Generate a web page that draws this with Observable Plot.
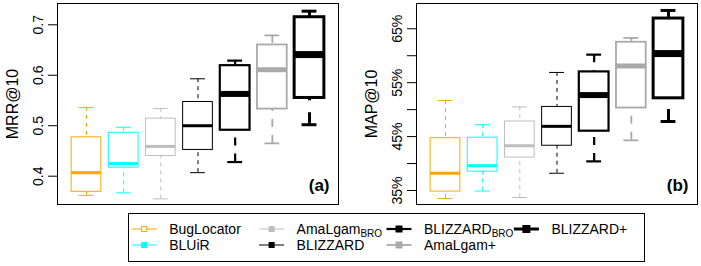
<!DOCTYPE html>
<html><head><meta charset="utf-8">
<script src="https://cdn.jsdelivr.net/npm/d3@7"></script>
<script src="https://cdn.jsdelivr.net/npm/@observablehq/plot@0.6"></script>
<style>
body{margin:0;background:#fff;}
#wrap{position:relative;width:701px;height:266px;font-family:"Liberation Sans",Arial,sans-serif;}
#wrap svg{position:absolute;overflow:visible;}
</style></head><body><div id="wrap"></div>
<script>
// categories
const tools = ["BugLocator","BLUiR","AmaLgam_BRO","BLIZZARD","BLIZZARD_BRO","AmaLgam+","BLIZZARD+"];
const legendBase = ["BugLocator","BLUiR","AmaLgam","BLIZZARD","BLIZZARD","AmaLgam+","BLIZZARD+"];
const legendSub = ["","","BRO","","BRO","",""];
// MRR@10 five-number summaries
const mrrLo  = [0.362, 0.367, 0.355, 0.407, 0.428, 0.465, 0.502];
const mrrQ1  = [0.369, 0.417, 0.440, 0.452, 0.491, 0.533, 0.555];
const mrrMed = [0.407, 0.425, 0.459, 0.500, 0.563, 0.611, 0.641];
const mrrQ3  = [0.477, 0.486, 0.514, 0.547, 0.619, 0.660, 0.715];
const mrrHi  = [0.536, 0.497, 0.534, 0.593, 0.629, 0.679, 0.727];
// MAP@10 five-number summaries (%)
const mapLo  = [33.5, 34.9, 33.7, 38.2, 40.4, 44.3, 47.8];
const mapQ1  = [34.8, 38.5, 41.1, 43.3, 46.0, 50.3, 52.1];
const mapMed = [38.2, 39.6, 43.3, 46.9, 52.7, 58.1, 60.4];
const mapQ3  = [44.7, 44.8, 47.8, 50.5, 57.0, 62.5, 66.9];
const mapHi  = [51.7, 47.2, 50.5, 56.9, 60.2, 63.3, 68.4];
// tick labels
const mrrTicks = [0.4, 0.5, 0.6, 0.7];
const mrrTickLabels = ["0.4","0.5","0.6","0.7"];
const mapTicks = [35, 40, 45, 50, 55, 60, 65];
const mapTickLabels = ["35%","","45%","","55%","","65%"];

// styles
const colors = ["#FFA500","#00FFFF","#BEBEBE","#000000","#000000","#A9A9A9","#000000"];
const lineWidths = [1,1,1,1,2.2,1.8,3];
const medianWidths = [3,3,3,3,6,5,7];
const dashes = ["4,4","4,4","4,4","4,4","8,8","8,8","12,12"];
const markerSizes = [5,5,5,5,6,6,7];

const wrap = document.getElementById("wrap");

function panel({lo,q1,med,q3,hi,domain,ticks,tickLabels,title,tag,width,marginLeft,marginRight,left}) {
  const rows = tools.map((t,i)=>({tool:t,pos:i+1,lo:lo[i],q1:q1[i],med:med[i],q3:q3[i],hi:hi[i]}));
  const marks = [Plot.frame({stroke:"black",strokeWidth:1})];
  rows.forEach((r,i)=>{
    const d=[r], c=colors[i], w=lineWidths[i];
    marks.push(Plot.ruleX(d,{x:"pos",y1:"hi",y2:"q3",stroke:c,strokeWidth:w,strokeDasharray:dashes[i]}));
    marks.push(Plot.ruleX(d,{x:"pos",y1:"lo",y2:"q1",stroke:c,strokeWidth:w,strokeDasharray:dashes[i]}));
    marks.push(Plot.ruleY(d,{y:"hi",x1:v=>v.pos-0.2,x2:v=>v.pos+0.2,stroke:c,strokeWidth:w}));
    marks.push(Plot.ruleY(d,{y:"lo",x1:v=>v.pos-0.2,x2:v=>v.pos+0.2,stroke:c,strokeWidth:w}));
    marks.push(Plot.rect(d,{x1:v=>v.pos-0.4,x2:v=>v.pos+0.4,y1:"q1",y2:"q3",fill:"none",stroke:c,strokeWidth:w}));
    marks.push(Plot.ruleY(d,{y:"med",x1:v=>v.pos-0.4,x2:v=>v.pos+0.4,stroke:c,strokeWidth:medianWidths[i]}));
  });
  marks.push(Plot.axisY({ticks, tickSize:9, tickRotate:-90, tickPadding:6, fontSize:14,
    tickFormat: v => tickLabels[ticks.indexOf(v)], label:null}));
  marks.push(Plot.text([title],{text:v=>v,frameAnchor:"left",dx:-45,rotate:-90,fontSize:16,textAnchor:"middle",lineAnchor:"middle"}));
  marks.push(Plot.text([tag],{text:v=>v,frameAnchor:"bottom-right",dx:-9,dy:-19,textAnchor:"end",lineAnchor:"middle",fontWeight:"bold",fontSize:17}));
  const svg = Plot.plot({
    width, height:208, marginLeft, marginRight, marginTop:3, marginBottom:4,
    x:{domain:[0.22,7.78],axis:null},
    y:{domain,label:null},
    style:{fontFamily:"Liberation Sans, Arial, sans-serif",fontSize:"14px",color:"black",background:"transparent",overflow:"visible"},
    marks
  });
  svg.style.position="absolute";
  svg.style.left=left+"px";
  svg.style.top="0px";
  wrap.appendChild(svg);
}

panel({lo:mrrLo,q1:mrrQ1,med:mrrMed,q3:mrrQ3,hi:mrrHi,domain:[0.3439,0.7422],
  ticks:mrrTicks,tickLabels:mrrTickLabels,title:"MRR@10",tag:"(a)",width:345,marginLeft:57,marginRight:7,left:0});
panel({lo:mapLo,q1:mapQ1,med:mapMed,q3:mapQ3,hi:mapHi,domain:[32.4,69.69],
  ticks:mapTicks,tickLabels:mapTickLabels,title:"MAP@10",tag:"(b)",width:343,marginLeft:58,marginRight:4,left:358});

// legend
const leg = d3.create("svg").attr("width",518).attr("height",50)
  .style("left","128px").style("top","213px")
  .style("font-family","Liberation Sans, Arial, sans-serif");
leg.append("rect").attr("x",0.5).attr("y",0.5).attr("width",516).attr("height",48)
  .attr("fill","white").attr("stroke","black");
tools.forEach((t,i)=>{
  const col=Math.floor(i/2), row=i%2;
  const x0=3.7+col*127.4, y0=16+row*16;
  const g=leg.append("g");
  g.append("line").attr("x1",x0).attr("x2",x0+25).attr("y1",y0).attr("y2",y0)
    .attr("stroke",colors[i]).attr("stroke-width",lineWidths[i]);
  const s=markerSizes[i];
  g.append("rect").attr("x",x0+12.5-s/2).attr("y",y0-s/2).attr("width",s).attr("height",s)
    .attr("fill",i===0?"white":colors[i]).attr("stroke",colors[i]).attr("stroke-width",1);
  const tx=g.append("text").attr("x",x0+37.5).attr("y",y0+5).attr("font-size",14).attr("fill","black");
  tx.append("tspan").text(legendBase[i]);
  if (legendSub[i]) tx.append("tspan").attr("font-size",10).attr("dy",3).text(legendSub[i]);
});
wrap.appendChild(leg.node());
</script></body></html>
